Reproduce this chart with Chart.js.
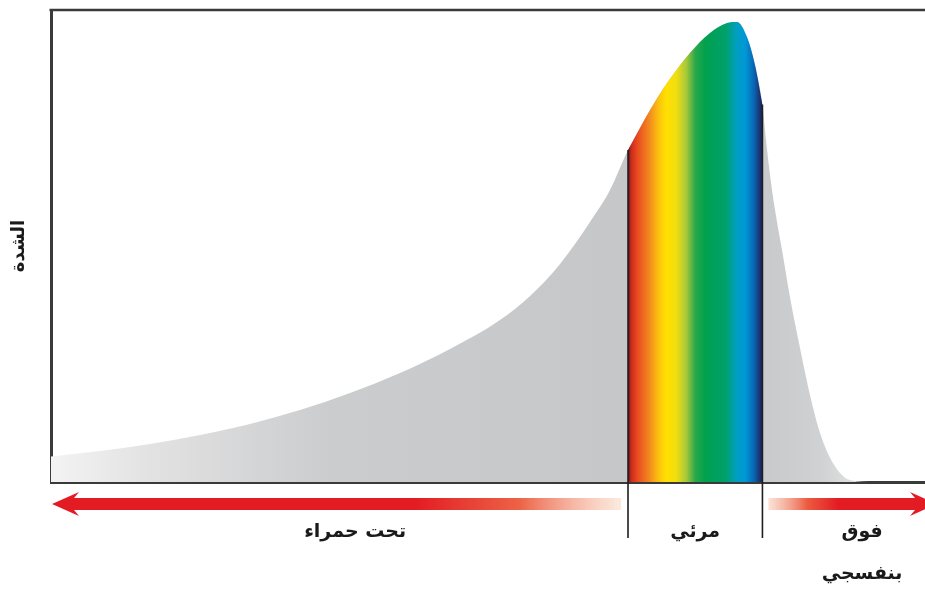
<!DOCTYPE html>
<html lang="ar">
<head>
<meta charset="utf-8">
<script src="https://cdn.jsdelivr.net/npm/chart.js@4"></script>
<style>
html,body{margin:0;padding:0;background:#fff;}
#wrap{width:925px;height:592px;position:relative;}
</style>
</head>
<body>
<div id="wrap"><canvas id="c"></canvas></div>
<script>
// Relative position along the spectrum (0 = long wavelength side, 100 = short)
const curveX = [0, 5.61, 11.33, 17.05, 22.77, 28.49, 34.21, 39.93, 45.65, 51.37, 54.81, 58.24, 61.67, 63.96, 66.02,
  67.39, 68.54, 70.48, 73.11, 75.40, 77.35, 78.49, 79.63, 80.55, 81.4,
  81.81, 82.27, 82.84, 83.64, 84.55, 85.70, 86.84, 87.99, 89.47, 91.42, 94.28, 100];
// Intensity (arbitrary units, 0–100)
const curveY = [5.4, 6.57, 8.05, 9.96, 12.29, 15.25, 18.86, 23.09, 28.18, 34.32, 39.41, 46.19, 55.08, 61.86, 70.34,
  75.0, 78.81, 84.53, 90.89, 95.13, 97.25, 97.46, 94.28, 88.35, 80.0,
  72.46, 65.04, 57.63, 49.15, 39.19, 28.39, 18.43, 10.38, 4.03, 0.42, 0, 0];
// Visible band limits
const bandEdges = [66.02, 81.4];
// Region labels and where they sit
const regionPositions = [34.8, 73.7, 92.8];
const regionLabels = ['تحت حمراء', 'مرئي', ['فوق', 'بنفسجي']];
const yTitle = 'الشدة';

const curveData = curveX.map((x, i) => ({x, y: curveY[i]}));
const bandData = curveData.filter(p => p.x >= bandEdges[0] - 1e-9 && p.x <= bandEdges[1] + 1e-9);

function grayFill(ctx) {
  const chart = ctx.chart, a = chart.chartArea;
  if (!a) return '#c8c9cb';
  const g = chart.ctx.createLinearGradient(a.left, 0, a.right, 0);
  g.addColorStop(0, '#f3f3f4');
  g.addColorStop(0.113, '#e2e2e3');
  g.addColorStop(0.32, '#cbcccd');
  g.addColorStop(0.66, '#c6c7c9');
  g.addColorStop(0.823, '#c9cacc');
  g.addColorStop(0.88, '#d0d1d2');
  g.addColorStop(0.93, '#e4e4e5');
  g.addColorStop(1, '#f3f3f3');
  return g;
}
function rainbowFill(ctx) {
  const chart = ctx.chart, a = chart.chartArea;
  if (!a) return '#00a04f';
  const xs = chart.scales.x;
  const x0 = xs.getPixelForValue(bandEdges[0]), x1 = xs.getPixelForValue(bandEdges[1]);
  const g = chart.ctx.createLinearGradient(x0, 0, x1, 0);
  const stops = [[0,'#5a1210'],[0.022,'#c82a1c'],[0.067,'#e8481f'],[0.15,'#f28220'],[0.224,'#fbbf10'],
    [0.284,'#ffe000'],[0.358,'#f2de10'],[0.433,'#a8c83a'],[0.5,'#2aa84a'],[0.575,'#00a14e'],[0.724,'#00a06a'],
    [0.806,'#009fc0'],[0.873,'#0097d8'],[0.94,'#0a63b0'],[0.985,'#1b2d6a'],[1,'#1b2a5a']];
  stops.forEach(s => g.addColorStop(s[0], s[1]));
  return g;
}

const decor = {
  id: 'decor',
  afterDraw(chart) {
    const c = chart.ctx, a = chart.chartArea, xs = chart.scales.x, ys = chart.scales.y;
    c.save();
    // top frame line
    c.strokeStyle = '#3a3a3a'; c.lineWidth = 2.5;
    c.beginPath(); c.moveTo(a.left - 1.5, a.top); c.lineTo(chart.width, a.top); c.stroke();
    // band separators
    const e0 = xs.getPixelForValue(bandEdges[0]), e1 = xs.getPixelForValue(bandEdges[1]);
    c.strokeStyle = '#1e1e1e'; c.lineWidth = 1.6;
    [[e0, curveY[curveX.indexOf(bandEdges[0])]], [e1, curveY[curveX.indexOf(bandEdges[1])]]].forEach(([px, v]) => {
      c.beginPath(); c.moveTo(px, ys.getPixelForValue(v)); c.lineTo(px, a.bottom + 56); c.stroke();
    });
    // arrows
    const ay = a.bottom + 22, h = 6;
    const tipL = a.left + 1, endL = e0 - 7;
    let g = c.createLinearGradient(tipL, 0, endL, 0);
    g.addColorStop(0, '#e31b23');
    g.addColorStop((413 - tipL) / (endL - tipL), '#e31b23');
    g.addColorStop((520 - tipL) / (endL - tipL), '#ec6347');
    g.addColorStop(1, 'rgba(250,215,195,0.55)');
    c.fillStyle = g;
    c.beginPath();
    c.moveTo(tipL, ay);
    c.lineTo(tipL + 27, ay - 12);
    c.lineTo(tipL + 22, ay - h);
    c.lineTo(endL, ay - h);
    c.lineTo(endL, ay + h);
    c.lineTo(tipL + 22, ay + h);
    c.lineTo(tipL + 27, ay + 12);
    c.closePath(); c.fill();
    const startR = e1 + 6, tipR = chart.width + 12;
    g = c.createLinearGradient(startR, 0, a.right, 0);
    g.addColorStop(0, 'rgba(248,205,185,0.6)');
    g.addColorStop(0.25, '#ec5a40');
    g.addColorStop(0.45, '#e31b23');
    g.addColorStop(1, '#e31b23');
    c.fillStyle = g;
    c.beginPath();
    c.moveTo(startR, ay - h);
    c.lineTo(tipR - 22, ay - h);
    c.lineTo(tipR - 27, ay - 12);
    c.lineTo(tipR, ay);
    c.lineTo(tipR - 27, ay + 12);
    c.lineTo(tipR - 22, ay + h);
    c.lineTo(startR, ay + h);
    c.closePath(); c.fill();
    c.restore();
  }
};

new Chart(document.getElementById('c'), {
  type: 'line',
  data: {
    datasets: [
      { data: bandData, fill: 'origin', backgroundColor: rainbowFill, borderWidth: 0, borderColor: 'transparent',
        pointRadius: 0, cubicInterpolationMode: 'monotone' },
      { data: curveData, fill: 'origin', backgroundColor: grayFill, borderWidth: 0, borderColor: 'transparent',
        pointRadius: 0, cubicInterpolationMode: 'monotone' }
    ]
  },
  options: {
    responsive: true, maintainAspectRatio: false, animation: false, events: [],
    layout: { padding: { top: 10, left: 0, right: 0, bottom: 0 } },
    plugins: { legend: { display: false }, tooltip: { enabled: false } },
    scales: {
      x: {
        type: 'linear', min: 0, max: 100,
        grid: { display: false, drawTicks: false },
        border: { display: true, color: '#3a3a3a', width: 3 },
        afterBuildTicks(scale) { scale.ticks = regionPositions.map(v => ({ value: v })); },
        afterFit(scale) { scale.height = 110; scale.paddingLeft = 0; scale.paddingRight = 0; },
        ticks: {
          autoSkip: false, maxRotation: 0, padding: 29, color: '#1a1a1a',
          font: { family: '"DejaVu Sans", sans-serif', size: 19, weight: 'bold', lineHeight: 2.2 },
          callback: (v, i) => regionLabels[i]
        }
      },
      y: {
        min: 0, max: 100,
        grid: { display: false, drawTicks: false },
        border: { display: true, color: '#3a3a3a', width: 3 },
        ticks: { display: false },
        afterFit(scale) { scale.width = 51; scale.paddingTop = 0; scale.paddingBottom = 0; },
        title: { display: true, text: yTitle, color: '#1a1a1a', padding: { top: 9, bottom: 0 },
          font: { family: '"DejaVu Sans", sans-serif', size: 18, weight: 'bold' } }
      }
    }
  },
  plugins: [decor]
});
</script>
</body>
</html>
